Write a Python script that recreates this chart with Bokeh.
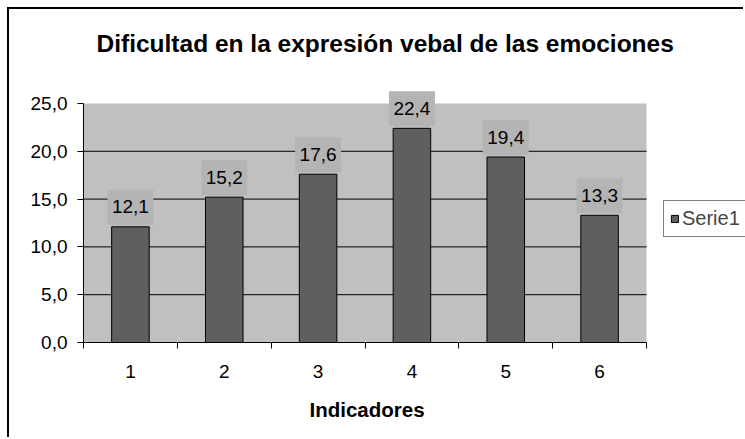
from bokeh.plotting import figure
from bokeh.models import (Range1d, FixedTicker, ColumnDataSource, Label, Legend, LegendItem, Title)
from bokeh.embed import file_html
from bokeh.resources import INLINE

# ---- data ----
categories = [1, 2, 3, 4, 5, 6]
values = [12.1, 15.2, 17.6, 22.4, 19.4, 13.3]
y_ticks = [0, 5, 10, 15, 20, 25]
y_tick_labels = ["0,0", "5,0", "10,0", "15,0", "20,0", "25,0"]
series_name = "Serie1"
title_text = "Dificultad en la expresión vebal de las emociones"
x_title = "Indicadores"

FONT = "Liberation Sans"
Y_MAX = y_ticks[-1]
X_LO = categories[0] - 0.5
X_HI = categories[-1] + 0.5

# layout constants (pixels)
FRAME_H = 268          # frame height; 0..Y_MAX spans 239 px
Y_TOP = 28.03
PX_PER_Y = FRAME_H / Y_TOP
PX_PER_X = 563 / (X_HI - X_LO)

p = figure(width=736, height=430, output_backend="svg", toolbar_location=None,
           x_range=Range1d(X_LO, 7.555), y_range=Range1d(0, Y_TOP),
           min_border_left=74, min_border_right=0, min_border_top=65, min_border_bottom=97)
p.styles = {"margin-left": "7px", "margin-top": "7px",
            "border-left": "2px solid black", "border-top": "2px solid black"}

p.background_fill_color = "white"
p.border_fill_color = "white"
p.outline_line_color = None

# gray plot area
p.quad(left=[X_LO], right=[X_HI], bottom=[0], top=[Y_MAX], fill_color="#c0c0c0",
       line_color=None, level="image")

# horizontal grid lines (only across the plot area)
grid_ticks = [t for t in y_ticks if 0 < t < Y_MAX]
p.segment(x0=[X_LO] * len(grid_ticks), x1=[X_HI] * len(grid_ticks),
          y0=grid_ticks, y1=grid_ticks, line_color="black", line_width=1)

# title
p.title.text = title_text
p.title.text_font = FONT
p.title.text_font_size = "24.5px"
p.title.text_font_style = "bold"
p.title.text_color = "black"
p.title.align = "left"
p.title.offset = 13
p.title.standoff = 35

labels = [f"{v:.1f}".replace(".", ",") for v in values]
src = ColumnDataSource(dict(x=categories, top=values, lab=labels))

r = p.vbar(x="x", top="top", width=0.4, source=src, fill_color="#5f5f5f",
           line_color="black", line_width=1)

# data label boxes
box_w = 46 / PX_PER_X
box_src = ColumnDataSource(dict(
    left=[c - box_w / 2 for c in categories],
    right=[c + box_w / 2 for c in categories],
    bottom=[v + 2 / PX_PER_Y for v in values],
    top=[v + 37 / PX_PER_Y for v in values]))
p.quad(left="left", right="right", bottom="bottom", top="top", source=box_src,
       fill_color="#b4b4b4", line_color=None)

for xv, yv, lab in zip(categories, values, labels):
    p.add_layout(Label(x=xv, y=yv, text=lab, text_align="center",
                       text_baseline="middle", y_offset=20, text_font=FONT,
                       text_font_size="19px", text_color="black"))

# x axis
xa = p.xaxis[0]
xa.bounds = (X_LO, X_HI)
xa.ticker = FixedTicker(ticks=categories, minor_ticks=[c - 0.5 for c in categories] + [X_HI])
xa.major_tick_out = 0
xa.major_tick_in = 0
xa.minor_tick_out = 6
xa.minor_tick_in = 0
xa.minor_tick_line_color = "black"
xa.axis_line_color = "black"
xa.major_label_standoff = 16
xa.major_label_text_font = FONT
xa.major_label_text_font_size = "19px"
xa.major_label_text_color = "black"

# x axis title (centred under the plot area)
p.add_layout(Title(text=x_title, align="left", offset=226, standoff=31,
                   text_font=FONT, text_font_size="20.5px", text_font_style="bold",
                   text_color="black"), "below")

# y axis
ya = p.yaxis[0]
ya.ticker = FixedTicker(ticks=y_ticks)
ya.bounds = (0, Y_MAX)
ya.major_label_overrides = {t: l for t, l in zip(y_ticks, y_tick_labels)}
ya.major_tick_out = 6
ya.major_tick_in = 0
ya.minor_tick_out = 0
ya.minor_tick_in = 0
ya.axis_line_color = "black"
ya.major_tick_line_color = "black"
ya.major_label_standoff = 10
ya.major_label_text_font = FONT
ya.major_label_text_font_size = "19px"
ya.major_label_text_color = "black"

p.xgrid.visible = False
p.ygrid.visible = False

legend = Legend(items=[LegendItem(label=series_name, renderers=[r])],
                location=(580, 105), orientation="vertical",
                label_text_font=FONT, label_text_font_size="20px",
                glyph_width=9, glyph_height=9, label_standoff=3,
                label_width=75,
                padding=6, margin=0, border_line_color="black",
                border_line_width=1, background_fill_color="white",
                background_fill_alpha=1.0)
p.add_layout(legend)

open("out.html", "w").write(file_html(p, INLINE))
